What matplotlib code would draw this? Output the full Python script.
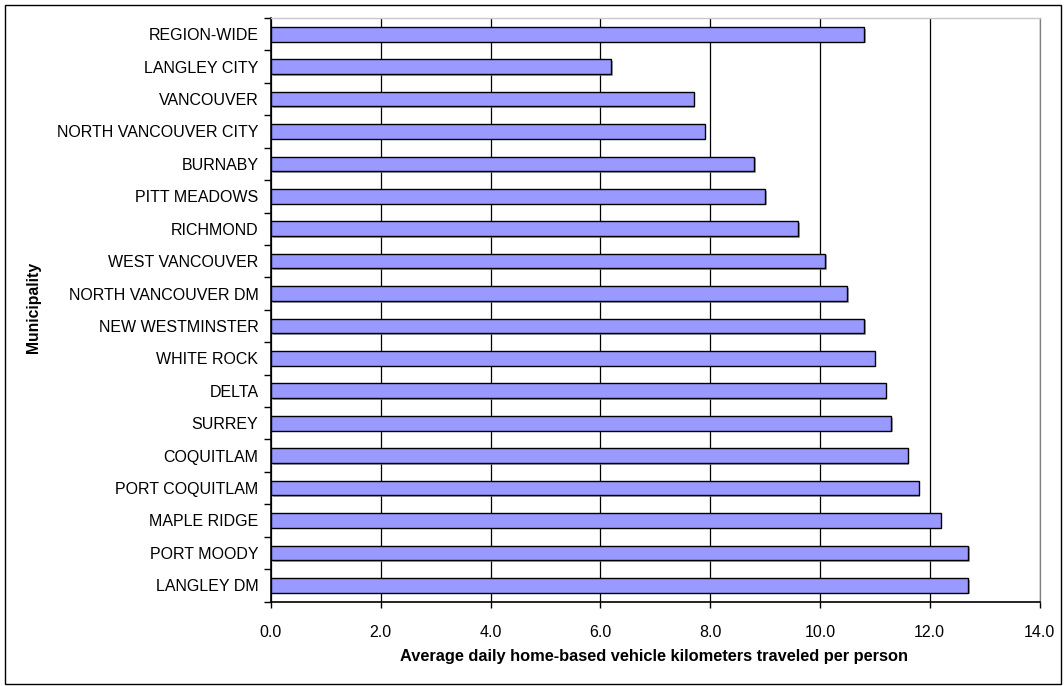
import matplotlib
matplotlib.use("Agg")
import matplotlib.pyplot as plt
from matplotlib.patches import Rectangle
from matplotlib import patheffects as pe
import numpy as np

# Average daily home-based vehicle kilometres travelled per person, by municipality
municipalities = [
    "REGION-WIDE", "LANGLEY CITY", "VANCOUVER", "NORTH VANCOUVER CITY",
    "BURNABY", "PITT MEADOWS", "RICHMOND", "WEST VANCOUVER",
    "NORTH VANCOUVER DM", "NEW WESTMINSTER", "WHITE ROCK", "DELTA",
    "SURREY", "COQUITLAM", "PORT COQUITLAM", "MAPLE RIDGE",
    "PORT MOODY", "LANGLEY DM",
]
vkt_per_person = [
    10.8, 6.2, 7.7, 7.9,
    8.8, 9.0, 9.6, 10.1,
    10.5, 10.8, 11.0, 11.2,
    11.3, 11.6, 11.8, 12.2,
    12.7, 12.7,
]
x_ticks = [0.0, 2.0, 4.0, 6.0, 8.0, 10.0, 12.0, 14.0]

x_title = "Average daily home-based vehicle kilometers traveled per person"
y_title = "Municipality"

plt.rcParams["font.family"] = ["Liberation Sans", "DejaVu Sans"]

W, H = 1064, 686
fig = plt.figure(figsize=(W / 100, H / 100), dpi=100)
fig.patch.set_facecolor("white")

# plot area in pixel terms
left, right, top, bottom = 271, 1039.5, 18, 601.5
ax = fig.add_axes([left / W, 1 - bottom / H, (right - left) / W, (bottom - top) / H])

ypos = np.arange(len(municipalities))
ax.barh(
    ypos, vkt_per_person, height=0.45, color="#9999ff",
    edgecolor="black", linewidth=1.0, zorder=3,
    path_effects=[pe.SimplePatchShadow(offset=(1.2, -1.2), shadow_rgbFace="#808080", alpha=0.7),
                  pe.Normal()],
)

ax.set_xlim(x_ticks[0], x_ticks[-1])
ax.set_ylim(len(municipalities) - 0.5, -0.5)

ax.set_xticks(x_ticks)
ax.set_xticklabels([f"{v:.1f}" for v in x_ticks], fontsize=11.5)
ax.set_yticks(ypos)
ax.set_yticklabels(municipalities, fontsize=11.5)
ax.set_yticks(np.arange(-0.5, len(municipalities), 1.0), minor=True)

ax.tick_params(axis="y", which="major", length=0, pad=9)
ax.tick_params(axis="y", which="minor", length=5, width=1.0, direction="out", color="black")
ax.tick_params(axis="x", which="major", length=4, width=1.0, direction="out", pad=13, color="black")

ax.grid(axis="x", color="black", linewidth=0.9, zorder=1)
ax.set_axisbelow(True)

for side in ("left", "bottom"):
    ax.spines[side].set_color("black")
    ax.spines[side].set_linewidth(1.2)
ax.spines["top"].set_color("#c8c8c8")
ax.spines["top"].set_linewidth(1.0)
ax.spines["right"].set_color("#808080")
ax.spines["right"].set_linewidth(0.9)

fig.text(654 / W, 1 - 656.5 / H, x_title, ha="center", va="center",
         fontsize=11.8, fontweight="bold")
fig.text(33 / W, 1 - 307 / H, y_title, ha="center", va="center",
         rotation=90, fontsize=11.3, fontweight="bold")

# outer chart border
fig.patches.append(Rectangle((4.5 / W, 1 - 684 / H), (1061 - 4.5) / W, (684 - 5) / H,
                             transform=fig.transFigure, fill=False,
                             edgecolor="black", linewidth=1.0))

fig.savefig("out.png", dpi=100, facecolor="white")
